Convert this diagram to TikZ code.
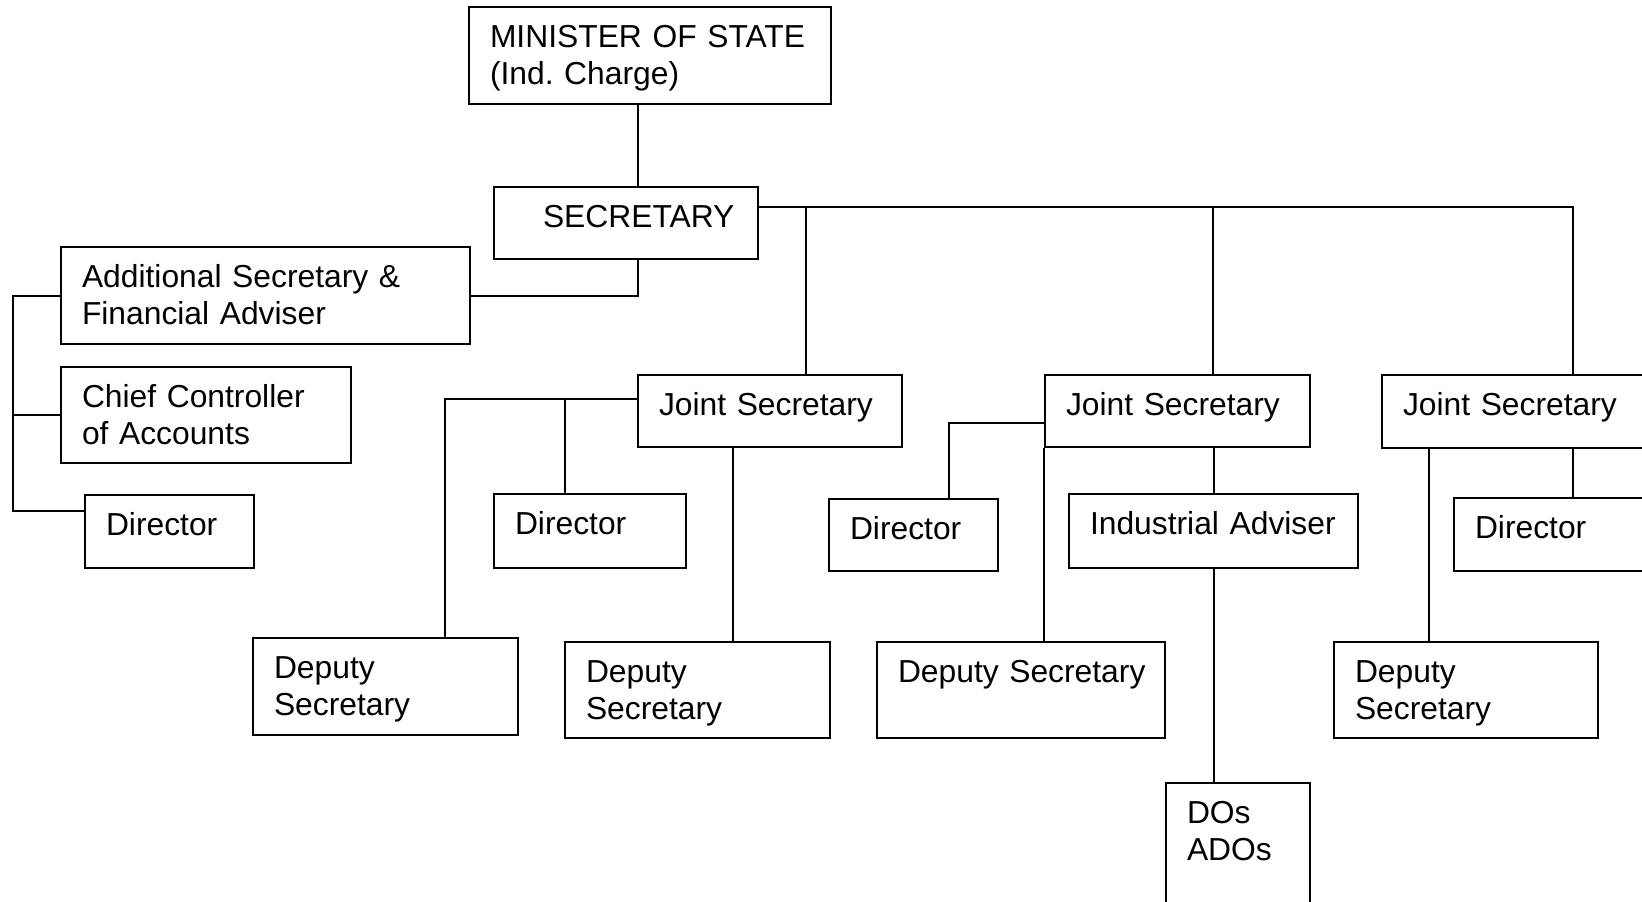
\documentclass[tikz,border=0pt]{standalone}
\usepackage{fontspec}
\setmainfont{Liberation Sans}
\usetikzlibrary{positioning,calc}

\begin{document}
\begin{tikzpicture}[x=0.5pt, y=-0.5pt, line width=1pt,
  font=\fontsize{15.9}{18.8}\selectfont\frenchspacing,
  box/.style 2 args={draw, anchor=north west, align=left, inner xsep=10.5pt,
    inner ysep=0pt, text height=20pt, text width=#1, text depth=#2}]
  \useasboundingbox (0,0) rectangle (1642,901);
  \node[box={160pt}{28.5pt}] (min) at (468,6) {\mbox{MINISTER OF STATE}\\(Ind. Charge)};
  \node[box={111pt}{16pt}] (sec) at (493,186) {\hspace*{14pt}SECRETARY};
  \node[box={183.5pt}{28.5pt}] (asfa) at (60,246) {\mbox{Additional Secretary \&}\\Financial Adviser};
  \node[box={124pt}{28pt}] (cca) at (60,366) {\mbox{Chief Controller}\\of Accounts};
  \node[box={63.5pt}{16.5pt}] (dirL) at (84,494) {Director};
  \node[box={111pt}{16pt}] (js1) at (637,374) {\mbox{Joint Secretary}};
  \node[box={75pt}{17pt}] (dir2) at (493,493) {Director};
  \node[box={111.5pt}{28.5pt}] (ds1) at (252,637) {Deputy\\Secretary};
  \node[box={111.5pt}{28pt}] (ds2) at (564,641) {Deputy\\Secretary};
  \node[box={111.5pt}{16pt}] (js2) at (1044,374) {\mbox{Joint Secretary}};
  \node[box={63.5pt}{16pt}] (dir3) at (828,498) {Director};
  \node[box={123pt}{28pt}] (ds3) at (876,641) {\mbox{Deputy Secretary}};
  \node[box={123.5pt}{17pt}] (ia) at (1068,493) {\mbox{Industrial Adviser}};
  \node[box={51pt}{50pt}] (dos) at (1165,782) {DOs\\ADOs};
  \node[box={111.5pt}{16.5pt}] (js3) at (1381,374) {\mbox{Joint Secretary}};
  \node[box={79pt}{16.5pt}] (dir4) at (1453,497) {Director};
  \node[box={111pt}{28pt}] (ds4) at (1333,641) {Deputy\\Secretary};

  \coordinate (bus) at ([yshift=8pt]sec.east);
  \draw ([xshift=6pt]sec.north) -- ([xshift=6pt]sec.north |- min.south);
  \draw ([xshift=6pt]sec.south) |- (asfa.east);
  \draw (asfa.west) -- ++(-47,0) coordinate (lbus) |- ([yshift=10.25pt]dirL.west);
  \draw (cca.west) -- (cca.west -| lbus);
  \draw (bus) -| ([xshift=84.5pt]js1.north west);
  \draw (bus) -| ([xshift=84.5pt]js2.north west);
  \draw (bus) -| ([xshift=96pt]js3.north west);
  \draw ([yshift=6pt]js1.west) -| ([xshift=96.5pt]ds1.north west);
  \draw ([xshift=36pt]dir2.north west) |- ([yshift=6pt]js1.west);
  \draw ([xshift=48pt]js1.south west) -- ([xshift=48pt]js1.south west |- ds2.north);
  \draw ([yshift=-6pt]js2.west) -| ([xshift=60.5pt]dir3.north west);
  \draw (js2.south west) -- (js2.south west |- ds3.north);
  \draw (ia.north) -- (ia.north |- js2.south);
  \draw (ia.south) -- (ia.south |- dos.north);
  \draw ([xshift=96pt]js3.south west) -- ([xshift=96pt]js3.south west |- dir4.north);
  \draw ([xshift=24pt]js3.south west) -- ([xshift=24pt]js3.south west |- ds4.north);
\end{tikzpicture}
\end{document}
